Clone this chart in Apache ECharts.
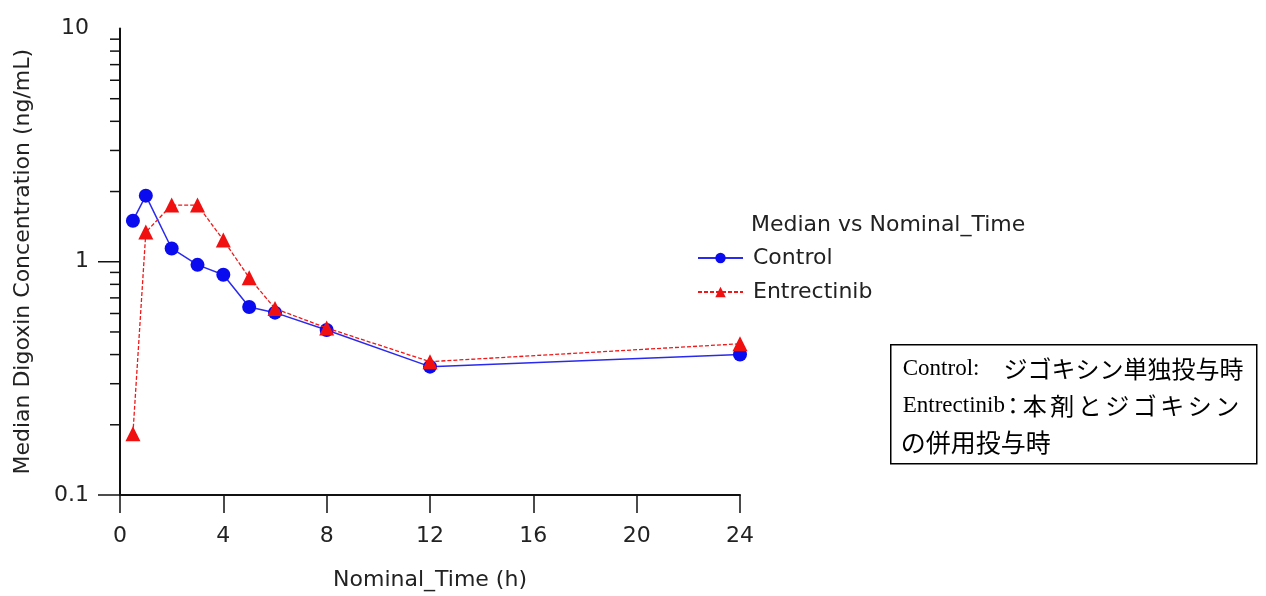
<!DOCTYPE html>
<html>
<head>
<meta charset="utf-8">
<script src="https://cdn.jsdelivr.net/npm/echarts@6/dist/echarts.min.js"></script>
<style>
  html, body { margin: 0; padding: 0; background: #ffffff; }
  #chart { width: 1266px; height: 596px; }
</style>
</head>
<body>
<div id="chart"></div>
<script>
// Nominal sampling times (h)
const times = [0.5, 1, 2, 3, 4, 5, 6, 8, 12, 24];
// Median digoxin concentration (ng/mL), digoxin alone
const controlValues = [1.50, 1.92, 1.14, 0.97, 0.88, 0.64, 0.605, 0.51, 0.355, 0.40];
// Median digoxin concentration (ng/mL), digoxin + entrectinib
const entrectinibValues = [0.183, 1.34, 1.75, 1.75, 1.24, 0.854, 0.63, 0.52, 0.373, 0.445];
// Log-axis tick positions
const yMajorTicks = [0.1, 1];
const yMinorTicks = [0.2, 0.3, 0.4, 0.5, 0.6, 0.7, 0.8, 0.9, 2, 3, 4, 5, 6, 7, 8, 9];
// x-axis tick spacing
const xTickStep = 4;

const FONT = '"DejaVu Sans", Verdana, sans-serif';
const TEXT_COLOR = '#222222';
const SERIF = '"Liberation Serif", "Times New Roman", serif';
const CJK = '"Noto Sans CJK JP", sans-serif';

const pair = (xs, ys) => xs.map((x, i) => [x, ys[i]]);

const tickData = yMajorTicks.map(v => [v, 22]).concat(yMinorTicks.map(v => [v, 10]));

const chart = echarts.init(document.getElementById('chart'), null, { renderer: 'canvas' });

chart.setOption({
  backgroundColor: '#ffffff',
  animation: false,
  title: {
    text: 'Median vs Nominal_Time',
    left: 751,
    top: 214,
    padding: 0,
    textStyle: { fontFamily: FONT, fontSize: 22, fontWeight: 'normal', color: TEXT_COLOR }
  },
  legend: {
    data: ['Control', 'Entrectinib'],
    orient: 'vertical',
    left: 697,
    top: 246,
    padding: 0,
    itemWidth: 45,
    itemHeight: 13,
    itemGap: 10,
    textStyle: { fontFamily: FONT, fontSize: 22, color: TEXT_COLOR, lineHeight: 24, padding: [0, 0, 0, 5] }
  },
  grid: { left: 120, right: 526, top: 28.5, bottom: 100.5, containLabel: false },
  xAxis: {
    type: 'value',
    min: 0,
    max: 24,
    interval: xTickStep,
    name: 'Nominal_Time (h)',
    nameLocation: 'middle',
    nameGap: 74,
    nameTextStyle: { fontFamily: FONT, fontSize: 22, color: TEXT_COLOR },
    axisLine: { show: true, onZero: false, lineStyle: { color: '#111111', width: 2 } },
    axisTick: { show: true, inside: false, length: 18, lineStyle: { color: '#111111', width: 1.5 } },
    axisLabel: { fontFamily: FONT, fontSize: 22, color: TEXT_COLOR, margin: 30 },
    splitLine: { show: false }
  },
  yAxis: {
    type: 'log',
    logBase: 10,
    min: 0.1,
    max: 10,
    name: 'Median Digoxin Concentration (ng/mL)',
    nameLocation: 'middle',
    nameGap: 86,
    nameTextStyle: { fontFamily: FONT, fontSize: 22, color: TEXT_COLOR },
    axisLine: { show: true, lineStyle: { color: '#111111', width: 2 } },
    axisTick: { show: false },
    axisLabel: {
      fontFamily: FONT, fontSize: 22, color: TEXT_COLOR, margin: 31,
      formatter: v => String(Math.round(v * 10) / 10)
    },
    splitLine: { show: false }
  },
  graphic: [
    {
      type: 'group',
      left: 890,
      top: 344,
      children: [
        {
          type: 'rect',
          shape: { x: 0, y: 0, width: 366, height: 119 },
          style: { fill: '#ffffff', stroke: '#000000', lineWidth: 1.5 }
        },
        {
          type: 'text',
          x: 12,
          y: 24,
          style: {
            text: '{l|Control:}{s| }{c|ジゴキシン単独投与時}',
            verticalAlign: 'middle',
            rich: {
              l: { fontFamily: SERIF, fontSize: 23, fill: '#000000' },
              s: { fontFamily: SERIF, fontSize: 23, width: 24 },
              c: { fontFamily: CJK, fontSize: 24, fill: '#000000' }
            }
          }
        },
        {
          type: 'text',
          x: 12,
          y: 61,
          style: {
            text: '{l|Entrectinib}{p|：}{j|本}{j|剤}{j|と}{j|ジ}{j|ゴ}{j|キ}{j|シ}{j|ン}',
            verticalAlign: 'middle',
            rich: {
              l: { fontFamily: SERIF, fontSize: 23, fill: '#000000' },
              p: { fontFamily: CJK, fontSize: 23, fill: '#000000', width: 16, align: 'center' },
              j: { fontFamily: CJK, fontSize: 24, fill: '#000000', width: 27.5, align: 'left' }
            }
          }
        },
        {
          type: 'text',
          x: 10,
          y: 98,
          style: {
            text: 'の併用投与時',
            verticalAlign: 'middle',
            fontFamily: CJK,
            fontSize: 25,
            fill: '#000000'
          }
        }
      ]
    }
  ],
  series: [
    {
      name: 'Control',
      type: 'line',
      data: pair(times, controlValues),
      symbol: 'circle',
      symbolSize: 14,
      lineStyle: { color: '#2a2aee', width: 1.5, type: 'solid' },
      itemStyle: { color: '#0b0bf0' },
      z: 3
    },
    {
      name: 'Entrectinib',
      type: 'line',
      data: pair(times, entrectinibValues),
      symbol: 'triangle',
      symbolSize: 15,
      lineStyle: { color: '#f01818', width: 1.3, type: [4, 2] },
      itemStyle: { color: '#f01010' },
      z: 4
    },
    {
      name: 'yTicks',
      type: 'custom',
      clip: false,
      silent: true,
      z: 5,
      data: tickData,
      encode: { y: 0 },
      renderItem: (params, api) => {
        const pt = api.coord([0, api.value(0)]);
        const len = api.value(1);
        return {
          type: 'line',
          shape: { x1: pt[0] - len, y1: pt[1], x2: pt[0], y2: pt[1] },
          style: { stroke: '#111111', lineWidth: 1.5 }
        };
      }
    }
  ]
});
</script>
</body>
</html>
